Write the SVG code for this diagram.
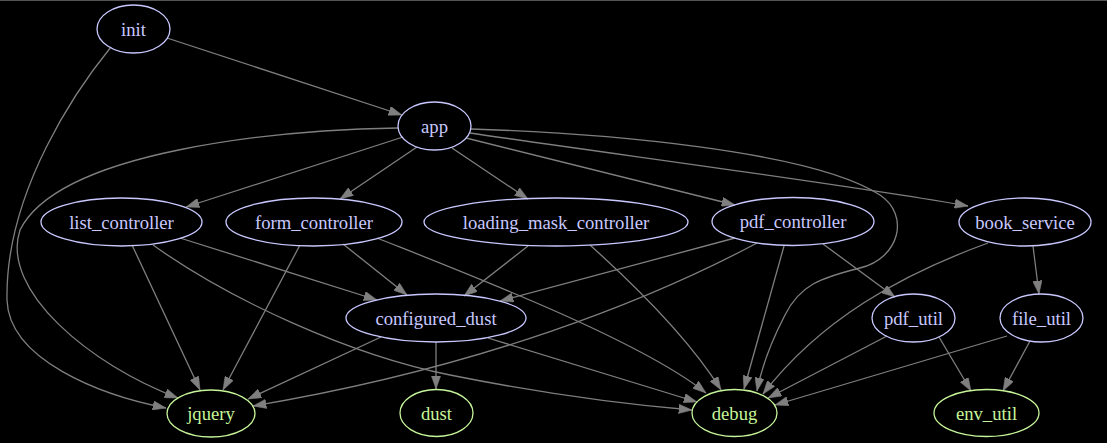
<svg xmlns="http://www.w3.org/2000/svg" width="1107" height="443" viewBox="0 0 1107 443">
<defs>
<style>
.n ellipse{fill:none;stroke:#c8c8ff;stroke-width:1.3}
.n text{fill:#c8c8ff}
.l ellipse{fill:none;stroke:#c6f59a;stroke-width:1.3}
.l text{fill:#c6f59a}
#edges path{fill:none;stroke:#7f7f7f;stroke-width:1.3;marker-end:url(#ah)}
</style>
<marker id="ah" markerUnits="userSpaceOnUse" viewBox="0 0 13.3 9.4" markerWidth="13.3" markerHeight="9.4" refX="13.3" refY="4.7" orient="auto">
<path d="M0,0 L13.3,4.7 L0,9.4 z" fill="#7f7f7f" stroke="#7f7f7f" stroke-width="0.5"/>
</marker>
</defs>
<rect x="0" y="0" width="1107" height="443" fill="#000"/>
<line x1="0" y1="0.5" x2="1107" y2="0.5" stroke="#555" stroke-width="1"/>
<g id="edges">
<path d="M167,38 L402,115"/>
<path d="M111,47 C80,85 5,190 7,300 C9,360 100,395 166,408"/>
<path d="M398,128 C280,130 60,150 20,230 C0,290 90,365 178,398"/>
<path d="M403,137 L186,207"/>
<path d="M417,147 L340,199"/>
<path d="M452,148 L528,199"/>
<path d="M466,138 L735,205"/>
<path d="M470,133 C620,155 850,185 968,206"/>
<path d="M471,129 C600,133 810,150 880,195 C910,215 900,258 860,268 C820,278 800,285 785,315 C772,340 762,365 757,391"/>
<path d="M180,238 L377,300"/>
<path d="M132,245 L200,390"/>
<path d="M153,245 C230,300 350,355 450,375 C550,395 620,404 692,410"/>
<path d="M343,244 L407,295"/>
<path d="M300,245 L223,390"/>
<path d="M377,238 C470,275 640,340 706,393"/>
<path d="M528,246 L464,296"/>
<path d="M590,245 C640,290 690,340 721,390"/>
<path d="M735,238 L500,301"/>
<path d="M757,243 C650,300 480,368 253,406"/>
<path d="M784,246 L744,389"/>
<path d="M823,244 L895,297"/>
<path d="M988,243 C900,275 820,320 763,394"/>
<path d="M1033,246 L1039,294"/>
<path d="M381,337 L248,399"/>
<path d="M436,342 L436,389"/>
<path d="M488,338 L697,402"/>
<path d="M887,336 L768,398"/>
<path d="M939,337 L971,391"/>
<path d="M1007,336 L775,405"/>
<path d="M1030,341 L1003,391"/>
</g>
<g font-family="Liberation Serif, Times New Roman, serif" font-size="18.67" text-anchor="middle">
<g id="init" class="n"><ellipse cx="133.5" cy="29" rx="36.5" ry="24"/><text x="133.5" y="35.5">init</text></g>
<g id="app" class="n"><ellipse cx="434.5" cy="126" rx="36.5" ry="24"/><text x="434.5" y="132.5">app</text></g>
<g id="list_controller" class="n"><ellipse cx="121.5" cy="222" rx="80.5" ry="24"/><text x="121.5" y="228.5">list_controller</text></g>
<g id="form_controller" class="n"><ellipse cx="314" cy="222" rx="88" ry="24"/><text x="314" y="228.5">form_controller</text></g>
<g id="loading_mask_controller" class="n"><ellipse cx="556" cy="222" rx="132" ry="24"/><text x="556" y="228.5">loading_mask_controller</text></g>
<g id="pdf_controller" class="n"><ellipse cx="793" cy="221.5" rx="81" ry="24"/><text x="793" y="228">pdf_controller</text></g>
<g id="book_service" class="n"><ellipse cx="1025" cy="222" rx="66" ry="24"/><text x="1025" y="228.5">book_service</text></g>
<g id="configured_dust" class="n"><ellipse cx="436" cy="318" rx="90" ry="24"/><text x="436" y="324.5">configured_dust</text></g>
<g id="pdf_util" class="n"><ellipse cx="913.5" cy="318" rx="41.5" ry="24"/><text x="913.5" y="324.5">pdf_util</text></g>
<g id="file_util" class="n"><ellipse cx="1041.5" cy="318" rx="41.5" ry="24"/><text x="1041.5" y="324.5">file_util</text></g>
<g id="jquery" class="l"><ellipse cx="211" cy="413.5" rx="44" ry="23.5"/><text x="211" y="420">jquery</text></g>
<g id="dust" class="l"><ellipse cx="436.5" cy="413" rx="36.5" ry="23.5"/><text x="436.5" y="419.5">dust</text></g>
<g id="debug" class="l"><ellipse cx="734.5" cy="413" rx="42.5" ry="23.5"/><text x="734.5" y="419.5">debug</text></g>
<g id="env_util" class="l"><ellipse cx="986.5" cy="413" rx="52.5" ry="23.5"/><text x="986.5" y="419.5">env_util</text></g>
</g>
</svg>
